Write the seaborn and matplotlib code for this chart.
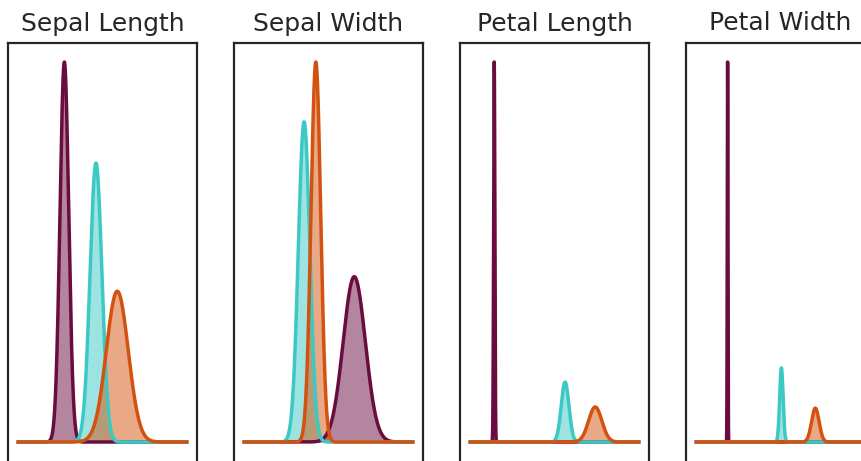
import numpy as np
import pandas as pd
import seaborn as sns
import matplotlib
matplotlib.use("Agg")
import matplotlib.pyplot as plt

# ---- data ----
features = ["Sepal Length", "Sepal Width", "Petal Length", "Petal Width"]
species = ["setosa", "versicolor", "virginica"]
x_ranges = [(3.6, 8.6), (1.3, 5.1), (0.3, 7.6), (-0.6, 3.2)]
# estimated centre (mean) of each bell curve, per feature: setosa, versicolor, virginica
means_sepal_length = [4.99, 5.91, 6.53]
means_sepal_width = [3.77, 2.66, 2.92]
means_petal_length = [1.39, 4.40, 5.68]
means_petal_width = [0.13, 1.32, 2.07]
# estimated spread of each bell curve
sds_sepal_length = [0.127, 0.173, 0.320]
sds_sepal_width = [0.246, 0.127, 0.107]
sds_petal_length = [0.026, 0.165, 0.282]
sds_petal_width = [0.0074, 0.038, 0.083]

means = [means_sepal_length, means_sepal_width, means_petal_length, means_petal_width]
sds = [sds_sepal_length, sds_sepal_width, sds_petal_length, sds_petal_width]

colors = {"setosa": "#6a0c3f", "versicolor": "#3cc9c4", "virginica": "#d4520f"}

sns.set_theme(style="white")
plt.rcParams["font.family"] = ["DejaVu Sans"]

W, H = 862, 461
fig = plt.figure(figsize=(W / 100, H / 100), dpi=100)

ax_w = 189
lefts = [8, 234, 460, 686]
top_px, bottom_px = 43, 461

for i, feat in enumerate(features):
    ax = fig.add_axes([lefts[i] / W, 1 - bottom_px / H, ax_w / W, (bottom_px - top_px) / H])
    lo, hi = x_ranges[i]
    x = np.linspace(lo, hi, 4000)
    rows = []
    for j, sp in enumerate(species):
        m, s = means[i][j], sds[i][j]
        y = np.exp(-0.5 * ((x - m) / s) ** 2) / (s * np.sqrt(2 * np.pi))
        rows.append(pd.DataFrame({"x": x, "density": y, "species": sp}))
    df = pd.concat(rows, ignore_index=True)
    for sp in species:
        d = df[df.species == sp]
        ax.fill_between(d.x, 0, d.density, color=colors[sp], alpha=0.5, lw=0)
    for sp in species:
        d = df[df.species == sp]
        sns.lineplot(data=d, x="x", y="density", color=colors[sp], lw=2.5, ax=ax,
                     solid_capstyle="butt")
    ax.set_xticks([])
    ax.set_yticks([])
    ax.set_xlabel("")
    ax.set_ylabel("")
    ax.set_title(feat, fontsize=18, color="#262626", pad=9)
    for sp_name, spine in ax.spines.items():
        spine.set_color("#262626")
        spine.set_linewidth(1.6)
    ax.spines["bottom"].set_visible(False)

fig.savefig("out.png", dpi=100)
